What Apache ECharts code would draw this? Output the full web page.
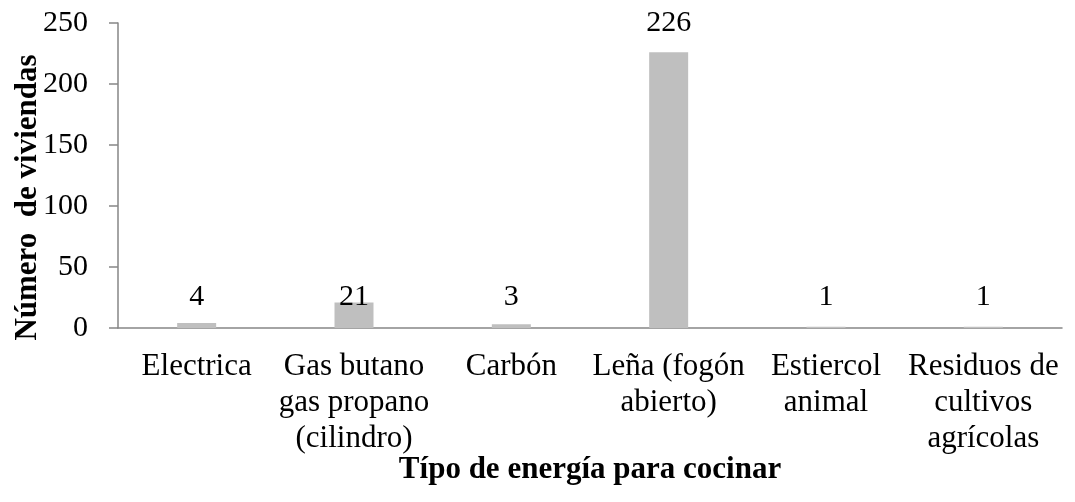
<!DOCTYPE html>
<html>
<head>
<meta charset="utf-8">
<script src="https://cdn.jsdelivr.net/npm/echarts@6/dist/echarts.min.js"></script>
<style>
  html, body { margin: 0; padding: 0; background: #fff; }
  #chart { width: 1075px; height: 502px; }
</style>
</head>
<body>
<div id="chart"></div>
<script>
const categories = [
  'Electrica',
  'Gas butano\ngas propano\n(cilindro)',
  'Carbón',
  'Leña (fogón\nabierto)',
  'Estiercol\nanimal',
  'Residuos de\ncultivos\nagrícolas'
]
const viviendas = [4, 21, 3, 226, 1, 1]
const yTicks = { min: 0, max: 250, interval: 50 }

const font = "'Times New Roman', 'Liberation Serif', serif"

// etiquetas pequeñas van a la misma altura, la grande encima de la barra
const barData = viviendas.map(function (v) {
  if (v > 100) {
    return { value: v, label: { position: 'top', distance: 14 } }
  }
  return { value: v, label: { position: 'insideBottom', distance: 16 } }
})

const chart = echarts.init(document.getElementById('chart'))
chart.setOption({
  animation: false,
  grid: { left: 118, right: 13, top: 23, bottom: 174, outerBoundsMode: 'none', containLabel: false },
  xAxis: {
    type: 'category',
    data: categories,
    name: 'Típo de energía para cocinar',
    nameLocation: 'middle',
    nameGap: 126,
    nameMoveOverlap: false,
    nameTextStyle: { fontFamily: font, fontSize: 31, fontWeight: 'bold', color: '#000' },
    axisLine: { lineStyle: { color: '#868686', width: 1.5 } },
    axisTick: { show: false },
    axisLabel: { fontFamily: font, fontSize: 31, color: '#000', lineHeight: 36, margin: 21, interval: 0 }
  },
  yAxis: {
    type: 'value',
    min: yTicks.min,
    max: yTicks.max,
    interval: yTicks.interval,
    name: 'Número  de viviendas',
    nameLocation: 'middle',
    nameGap: 75,
    nameMoveOverlap: false,
    nameTextStyle: { fontFamily: font, fontSize: 31, fontWeight: 'bold', color: '#000', padding: [0, 44, 0, 0] },
    axisLine: { show: true, lineStyle: { color: '#868686', width: 1.5 } },
    axisTick: { show: true, length: 9, lineStyle: { color: '#868686', width: 1.5 } },
    splitLine: { show: false },
    axisLabel: { fontFamily: font, fontSize: 30, color: '#000', margin: 30 }
  },
  series: [{
    type: 'bar',
    data: barData,
    barWidth: 39,
    itemStyle: { color: '#bfbfbf' },
    label: { show: true, fontFamily: font, fontSize: 30, color: '#000' }
  }]
})
</script>
</body>
</html>
